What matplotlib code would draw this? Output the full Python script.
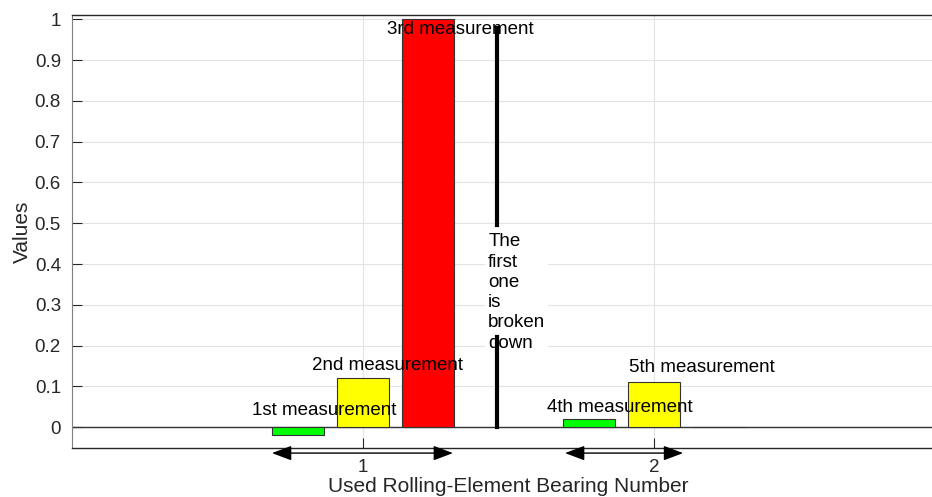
import matplotlib.pyplot as plt
from matplotlib.ticker import FuncFormatter

plt.rcParams['font.family'] = ['Liberation Sans', 'DejaVu Sans']

# data
bearings = [1, 2]
first_vals = [-0.02, 0.02]
second_vals = [0.12, 0.11]
third_vals = [1.0, 0.0]
colors = ['#00ff00', '#ffff00', '#ff0000']

labels = ['1st measurement', '2nd measurement', '3rd measurement',
          '4th measurement', '5th measurement']
label_x = [0.62, 0.825, 1.082, 1.632, 1.914]
label_y = [0.04, 0.15, 0.975, 0.047, 0.147]

break_x = 1.46
break_segments = [(0.0, 0.22), (0.495, 0.98)]
arrow_spans = [(0.687, 1.309), (1.694, 2.10)]

fig = plt.figure(figsize=(9.32, 4.97), dpi=100)
ax = fig.add_axes([0.0773, 0.0986, 0.9367, 0.8712])

offset = 0.223
width = 0.18
for i, vals in enumerate([first_vals, second_vals, third_vals]):
    xs = [b + (i - 1) * offset for b in bearings]
    ax.bar(xs, vals, width=width, color=colors[i], edgecolor='#333333',
           linewidth=0.8, zorder=3)

ax.axhline(0, color='#333333', linewidth=1.0, zorder=2)

for lab, x, y in zip(labels, label_x, label_y):
    ax.text(x, y, lab, fontsize=13.5, va='center', ha='left', zorder=5)

ax.text(1.43, 0.33, 'The\nfirst\none\nis\nbroken\ndown', fontsize=13.5,
        va='center', ha='left', linespacing=1.25, zorder=4,
        bbox=dict(facecolor='white', edgecolor='none', pad=2))
ax.plot([break_x, break_x], list(break_segments[1]), color='black',
        linewidth=3, zorder=3)
ax.plot([break_x, break_x], list(break_segments[0]), color='black',
        linewidth=3, zorder=6)

for x0, x1 in arrow_spans:
    ax.annotate('', xy=(x0, -0.064), xytext=(x1, -0.064),
                xycoords='data', annotation_clip=False,
                arrowprops=dict(arrowstyle='<|-|>,head_length=1.2,head_width=0.45',
                                color='black', linewidth=1.0,
                                shrinkA=0, shrinkB=0))

ax.set_xlim(0, 3)
ax.set_ylim(-0.0515, 1.011)
ax.set_xticks(bearings)
ax.set_yticks([i / 10 for i in range(11)])
ax.yaxis.set_major_formatter(FuncFormatter(lambda v, p: f'{v:g}'))
ax.tick_params(direction='in', length=7, labelsize=13.5, colors='#262626',
               width=0.8)
ax.tick_params(axis='x', pad=8)
ax.tick_params(axis='y', pad=8)
ax.grid(True, color='#e3e3e3', linewidth=0.8, zorder=0)
ax.set_axisbelow(True)

for side in ['top', 'bottom']:
    ax.spines[side].set_color('#262626')
    ax.spines[side].set_linewidth(1.0)
ax.spines['left'].set_color('#808080')
ax.spines['right'].set_visible(False)

ax.set_xlabel('Used Rolling-Element Bearing Number', fontsize=15,
              color='#262626', labelpad=1)
ax.set_ylabel('Values', fontsize=15, color='#262626', labelpad=2)

fig.savefig('out.png', dpi=100)
